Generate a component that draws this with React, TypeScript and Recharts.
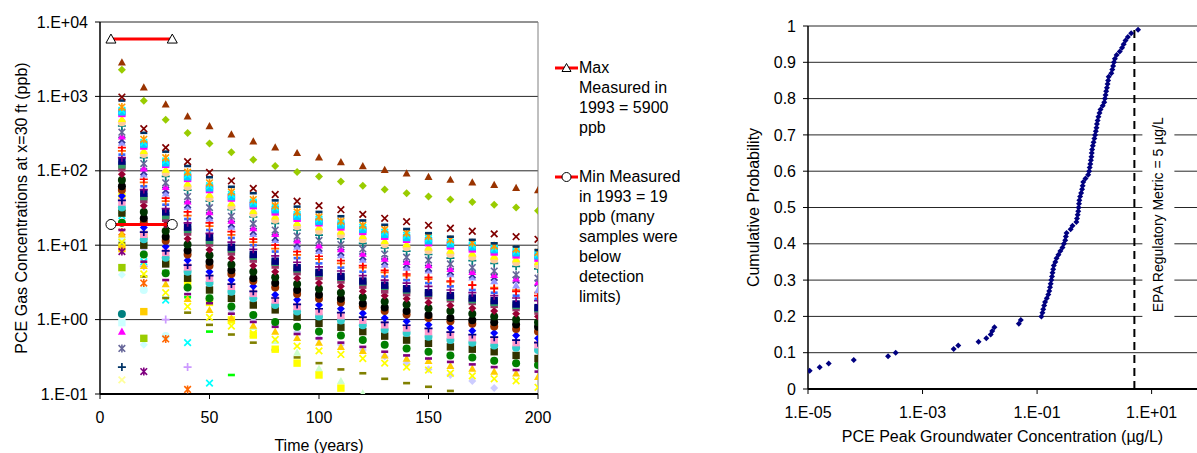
import React from "react";
import {
  ScatterChart,
  Scatter,
  XAxis,
  YAxis,
  CartesianGrid,
  ReferenceLine,
} from "recharts";

// ---- left panel: PCE gas concentration (ppb) vs time ----
const years = [10, 20, 30, 40, 50, 60, 70, 80, 90, 100, 110, 120, 130, 140, 150, 160, 170, 180, 190, 200];
const yTicksLeft = [0.1, 1, 10, 100, 1000, 10000];
const xTicksLeft = [0, 50, 100, 150, 200];

// one value per entry of `years`; missing = below the 0.1 ppb axis floor
const brownTri = [2870, 1325, 783, 540, 400, 310, 250, 207, 174, 152, 131, 116, 103, 92.5, 83, 76, 70, 65, 59, 55];
const greenDia = [2285, 875, 486, 322, 232, 177, 141, 116, 96, 84, 72, 63, 56, 50, 45, 41, 38, 35, 32, 29];
const redX = [980, 368, 205, 133, 95, 73, 58, 48, 39, 34, 30, 26, 23, 20.7, 18.5, 16.9, 15.4, 14.2, 13, 12];
const navyDash = [880, 324, 181, 116, 82, 61, 50, 40, 33, 28, 24.5, 21.5, 18.8, 16.5, 14.5, 13, 11.8, 10.6, 9.6, 8.6];
const orangeStar = [720, 265, 150, 96, 69, 52, 41, 34, 28, 24, 21, 18.5, 16.3, 14.6, 13.2, 11.9, 10.8, 9.8, 8.9, 8.0];
const cyanX = [650, 240, 136, 88, 63, 48, 38, 32, 26, 22.5, 20, 17.5, 15, 13.6, 12.3, 11, 10, 9.1, 8.3, 7.6];
const skyBlueSq = [620, 228, 128, 83, 59, 45, 36, 30, 24.5, 21, 18.7, 16.3, 14, 12.7, 11.5, 10.4, 9.5, 8.7, 7.9, 7.2];
const magentaSq = [590, 215, 122, 79, 56, 43, 34, 28, 23, 20, 17.6, 15.3, 13.2, 12, 10.8, 9.8, 8.9, 8.1, 7.4, 6.7];
const yellowTri = [500, 185, 104, 68, 48, 37, 29, 24.5, 20, 17.5, 15.4, 13.4, 11.5, 10.4, 9.4, 8.5, 7.8, 7.1, 6.5, 6.0];
const peachCirc = [450, 168, 94, 61, 43, 33, 26.5, 22, 18, 15.6, 13.8, 12, 10.3, 9.4, 8.5, 7.6, 7.0, 6.4, 5.9, 5.4];
const tealPlus = [400, 150, 84, 55, 39, 30, 24, 19.6, 16, 13.7, 12.2, 10.6, 9.2, 8.3, 7.5, 6.7, 6.2, 5.7, 5.2, 4.8];
const slateStar = [330, 125, 69, 45, 32, 24.5, 19.5, 16, 13.2, 11.6, 10.2, 8.9, 7.6, 6.9, 6.3, 5.6, 5.0, 4.5, 4.0, 3.6];
const magentaTri = [290, 108, 61, 39, 28, 21.5, 17, 14.2, 11.6, 10, 8.9, 7.7, 6.6, 6.0, 5.4, 4.8, 4.4, 4.0, 3.6, 3.2];
const indigoX = [260, 97, 55, 35, 25, 19.2, 15.3, 12.7, 10.4, 9.1, 8.0, 7.0, 6.0, 5.5, 4.9, 4.4, 4.0, 3.7, 3.4, 3.1];
const lavenderTri = [240, 90, 50, 33, 23, 17.8, 14.2, 11.8, 9.6, 8.4, 7.4, 6.4, 5.5, 5.0, 4.6, 4.1, 3.7, 3.3, 2.9, 2.5];
const redPlus = [205, 77, 43, 28, 20, 15.2, 12.1, 10, 8.2, 7.1, 6.2, 5.3, 4.6, 4.1, 3.7, 3.3, 2.9, 2.6, 2.4, 2.1];
const orangePlus = [185, 70, 39, 25, 18, 13.8, 11, 9, 7.4, 6.5, 5.7, 5.0, 4.3, 3.9, 3.5, 3.2, 2.9, 2.7, 2.5, 2.3];
const blueDash = [165, 62, 35, 22.5, 16, 12.5, 10, 8.2, 6.7, 5.7, 5.0, 4.4, 3.8, 3.4, 3.1, 2.8, 2.5, 2.3, 2.1, 1.9];
const purplePlus = [150, 56, 31, 20, 14.4, 11, 8.8, 7.2, 5.9, 5.1, 4.5, 3.9, 3.4, 3.1, 2.8, 2.5, 2.3, 2.1, 1.95, 1.8];
const navySq = [135, 50, 28, 17.5, 12.8, 9.4, 7.5, 6.1, 5.0, 4.3, 3.8, 3.3, 2.9, 2.6, 2.3, 2.1, 1.95, 1.8, 1.62, 1.45];
const seaGreenSq = [120, 45, 25, 16.3, 11.6, 8.9, 7.1, 5.9, 4.8, 4.2, 3.7, 3.2, 2.8, 2.5, 2.25, 2.0, 1.85, 1.7, 1.55, 1.4];
const brownSq = [110, 41, 23, 15, 10.7, 8.1, 6.5, 5.4, 4.4, 3.8, 3.4, 2.9, 2.5, 2.3, 2.1, 1.9, 1.75, 1.6, 1.45, 1.3];
const maroonDia = [90, 34, 19, 12.2, 8.7, 6.7, 5.3, 4.4, 3.6, 3.1, 2.8, 2.4, 2.1, 1.9, 1.7, 1.55, 1.42, 1.3, 1.2, 1.1];
const darkGreenCirc = [75, 28, 15.5, 10.2, 7.3, 5.5, 4.4, 3.7, 3.0, 2.6, 2.3, 2.0, 1.75, 1.6, 1.42, 1.3, 1.2, 1.1, 1.0, 0.92];
const blackCirc = [62, 23, 13, 8.5, 6.0, 4.6, 3.6, 3.1, 2.5, 2.15, 1.9, 1.65, 1.45, 1.3, 1.15, 1.05, 0.98, 0.92, 0.86, 0.8];
const brownCirc = [55, 20.5, 11.5, 7.5, 5.3, 4.1, 3.3, 2.7, 2.2, 1.9, 1.7, 1.5, 1.3, 1.17, 1.05, 0.95, 0.88, 0.81, 0.75, 0.69];
const blueDia = [46, 17.3, 9.6, 6.3, 4.4, 3.4, 2.8, 2.15, 1.85, 1.57, 1.4, 1.22, 1.05, 0.95, 0.85, 0.77, 0.71, 0.66, 0.61, 0.56];
const navyPlus = [40, 15, 8.4, 5.4, 3.9, 3.0, 2.4, 1.95, 1.6, 1.4, 1.24, 1.08, 0.92, 0.84, 0.76, 0.68, 0.63, 0.58, 0.53, 0.49];
const pinkSq = [38, 14, 8, 5.1, 3.6, 2.8, 2.25, 1.83, 1.5, 1.28, 1.13, 0.98, 0.85, 0.77, 0.69, 0.62, 0.57, 0.53, 0.49, 0.46];
const tealCirc = [32, 12, 6.8, 4.4, 3.1, 2.37, 1.93, 1.57, 1.28, 1.1, 0.97, 0.84, 0.73, 0.66, 0.59, 0.53, 0.49, 0.45, 0.42, 0.39];
const oliveSq = [27, 10, 5.6, 3.6, 2.5, 1.93, 1.57, 1.35, 1.08, 0.89, 0.79, 0.69, 0.6, 0.53, 0.48, 0.43, 0.4, 0.37, 0.33, 0.3];
const greenCirc = [20, 7.5, 4.2, 2.7, 1.93, 1.5, 1.15, 0.93, 0.8, 0.69, 0.61, 0.53, 0.46, 0.41, 0.37, 0.33, 0.31, 0.28, 0.26, 0.245];
const purpleDash = [16, 6, 3.4, 2.2, 1.66, 1.2, 0.93, 0.8, 0.64, 0.56, 0.49, 0.43, 0.37, 0.33, 0.3, 0.27, 0.25, 0.23, 0.21, 0.2];
const goldTri = [14, 5.3, 3.0, 1.9, 1.35, 1.05, 0.83, 0.69, 0.57, 0.49, 0.43, 0.38, 0.33, 0.3, 0.28, 0.24, 0.22, 0.2, 0.19, 0.17];
const yellowX = [11, 4.1, 2.3, 1.5, 1.07, 0.82, 0.65, 0.54, 0.44, 0.38, 0.34, 0.3, 0.26, 0.23, 0.21, 0.19, 0.175, 0.16, 0.15, 0.123];
const yellowSq = [45, 13.7, 6, 3.1, 1.7, 0.99, 0.62, 0.4, 0.26, 0.18, 0.12];
const lavenderDia = [30, 9, 4.3, 2.6, 1.8, 1.35, 1.05, 0.85, 0.68, 0.56, 0.46, 0.39, 0.32, 0.26, 0.215, 0.18, 0.15, 0.12];
const oliveDash = [10.7, 3.8, 1.95, 1.24, 0.85, 0.63, 0.49, 0.39, 0.31, 0.26, 0.214, 0.19, 0.16, 0.14, 0.125, 0.11];
const paleGreenTri = [50, 16, 7.5, 4.2, 2.4, 1.3, 0.8, 0.52, 0.36, 0.22, 0.15, 0.102];
const limeDash = [30, 10, 4.5, 2.0, 0.69, 0.18];
const cyanXFast = [25, 6, 1.83, 0.49, 0.14];
const lilacPlus = [20, 5.2, 1.0, 0.23];
const orangeStarFast = [15, 3.1, 0.55, 0.115];
const purpleStar = [8.2, 0.2];
const goldSq = [9, 1.28];
const limeSq = [5, 0.56];
const paleCyanDia = [4, 0.46];
const paleCyanCirc = [12, 2.5, 0.6];
const tealDot = [1.19];
const paleCyanSq = [0.91];
const magentaTriLow = [0.69];
const slateStarLow = [0.41];
const navyPlusLow = [0.23];
const paleYellowX = [0.155];

// 1993 field measurements
const measuredYears = [5, 33];
const maxMeasured = [5900, 5900];
const minMeasured = [19, 19];

// ---- right panel: cumulative probability of peak groundwater concentration ----
const cumProb = [
  0.05, 0.06, 0.07, 0.08, 0.09, 0.1, 0.11, 0.12, 0.13, 0.14, 0.15, 0.16, 0.17, 0.18, 0.19,
  0.2, 0.21, 0.22, 0.23, 0.24, 0.25, 0.26, 0.27, 0.28, 0.29,
  0.3, 0.31, 0.32, 0.33, 0.34, 0.35, 0.36, 0.37, 0.38, 0.39,
  0.4, 0.41, 0.42, 0.43, 0.44, 0.45, 0.46, 0.47, 0.48, 0.49,
  0.5, 0.51, 0.52, 0.53, 0.54, 0.55, 0.56, 0.57, 0.58, 0.59,
  0.6, 0.61, 0.62, 0.63, 0.64, 0.65, 0.66, 0.67, 0.68, 0.69,
  0.7, 0.71, 0.72, 0.73, 0.74, 0.75, 0.76, 0.77, 0.78, 0.79,
  0.8, 0.81, 0.82, 0.83, 0.84, 0.85, 0.86, 0.87, 0.88, 0.89,
  0.9, 0.91, 0.92, 0.93, 0.94, 0.95, 0.96, 0.97, 0.98, 0.99,
];
const peakConc = [
  1.07e-5, 1.6e-5, 2.3e-5, 6.3e-5, 2.5e-4, 3.4e-4, 3.5e-3, 4.2e-3, 9.5e-3, 1.3e-2, 1.55e-2, 1.65e-2, 1.8e-2, 4.8e-2, 5.2e-2,
  0.119, 0.124, 0.128, 0.133, 0.138, 0.148, 0.157, 0.163, 0.168, 0.173,
  0.177, 0.182, 0.186, 0.191, 0.196, 0.208, 0.219, 0.236, 0.255, 0.278,
  0.294, 0.31, 0.318, 0.327, 0.385, 0.415, 0.485, 0.498, 0.512, 0.524,
  0.532, 0.54, 0.547, 0.565, 0.588, 0.61, 0.625, 0.64, 0.7, 0.78,
  0.81, 0.83, 0.85, 0.87, 0.89, 0.9, 0.915, 0.94, 0.97, 1.0,
  1.03, 1.06, 1.09, 1.11, 1.14, 1.18, 1.23, 1.28, 1.4, 1.49,
  1.53, 1.57, 1.61, 1.66, 1.7, 1.74, 1.78, 1.98, 2.06, 2.13,
  2.2, 2.28, 2.45, 2.78, 3.05, 3.25, 3.5, 3.85, 4.4, 5.8,
];
const probTicks = [0, 0.1, 0.2, 0.3, 0.4, 0.5, 0.6, 0.7, 0.8, 0.9, 1];
const concTicks = [1e-5, 1e-3, 1e-1, 10];
const epaMetric = 5;

type Kind = "diamond" | "square" | "triangle" | "circle" | "x" | "star" | "plus" | "dash";

const series: { data: (number | null)[]; color: string; kind: Kind }[] = [
  { data: paleYellowX, color: "#FFFF99", kind: "x" },
  { data: navyPlusLow, color: "#003366", kind: "plus" },
  { data: slateStarLow, color: "#666699", kind: "star" },
  { data: magentaTriLow, color: "#FF00FF", kind: "triangle" },
  { data: paleCyanSq, color: "#CCFFFF", kind: "square" },
  { data: tealDot, color: "#008080", kind: "circle" },
  { data: paleCyanCirc, color: "#CCFFFF", kind: "circle" },
  { data: paleCyanDia, color: "#CCFFFF", kind: "diamond" },
  { data: limeSq, color: "#99CC00", kind: "square" },
  { data: goldSq, color: "#FFCC00", kind: "square" },
  { data: purpleStar, color: "#800080", kind: "star" },
  { data: orangeStarFast, color: "#FF6600", kind: "star" },
  { data: lilacPlus, color: "#CC99FF", kind: "plus" },
  { data: cyanXFast, color: "#00FFFF", kind: "x" },
  { data: limeDash, color: "#00FF00", kind: "dash" },
  { data: paleGreenTri, color: "#CCFFCC", kind: "triangle" },
  { data: oliveDash, color: "#808000", kind: "dash" },
  { data: lavenderDia, color: "#CCCCFF", kind: "diamond" },
  { data: yellowSq, color: "#FFFF00", kind: "square" },
  { data: yellowX, color: "#FFFF00", kind: "x" },
  { data: goldTri, color: "#FFCC00", kind: "triangle" },
  { data: purpleDash, color: "#800080", kind: "dash" },
  { data: greenCirc, color: "#008000", kind: "circle" },
  { data: oliveSq, color: "#333300", kind: "square" },
  { data: tealCirc, color: "#33CCCC", kind: "circle" },
  { data: pinkSq, color: "#FF99CC", kind: "square" },
  { data: navyPlus, color: "#000080", kind: "plus" },
  { data: blueDia, color: "#0000FF", kind: "diamond" },
  { data: brownCirc, color: "#993300", kind: "circle" },
  { data: blackCirc, color: "#000000", kind: "circle" },
  { data: darkGreenCirc, color: "#003300", kind: "circle" },
  { data: maroonDia, color: "#990033", kind: "diamond" },
  { data: brownSq, color: "#993366", kind: "square" },
  { data: seaGreenSq, color: "#339966", kind: "square" },
  { data: navySq, color: "#000080", kind: "square" },
  { data: purplePlus, color: "#800080", kind: "plus" },
  { data: blueDash, color: "#3366FF", kind: "dash" },
  { data: orangePlus, color: "#FF6600", kind: "plus" },
  { data: redPlus, color: "#FF0000", kind: "plus" },
  { data: lavenderTri, color: "#9999FF", kind: "triangle" },
  { data: indigoX, color: "#333399", kind: "x" },
  { data: magentaTri, color: "#FF00FF", kind: "triangle" },
  { data: slateStar, color: "#666699", kind: "star" },
  { data: tealPlus, color: "#008080", kind: "plus" },
  { data: peachCirc, color: "#FFCC99", kind: "circle" },
  { data: yellowTri, color: "#FFFF00", kind: "triangle" },
  { data: magentaSq, color: "#FF00FF", kind: "square" },
  { data: skyBlueSq, color: "#00CCFF", kind: "square" },
  { data: cyanX, color: "#00FFFF", kind: "x" },
  { data: orangeStar, color: "#FF9900", kind: "star" },
  { data: navyDash, color: "#003366", kind: "dash" },
  { data: redX, color: "#800000", kind: "x" },
  { data: greenDia, color: "#99CC00", kind: "diamond" },
  { data: brownTri, color: "#993300", kind: "triangle" },
];

const toPoints = (vals: (number | null)[], xs: number[] = years) =>
  vals.map((v, i) => ({ t: xs[i], v })).filter((p) => p.v != null);

const cdf = cumProb.map((p, i) => ({ c: peakConc[i], p }));

const sci = (v: number) => {
  const e = Math.round(Math.log10(v));
  return `1.E${e < 0 ? "-" : "+"}${String(Math.abs(e)).padStart(2, "0")}`;
};

function Mark({ cx, cy, kind, color, r = 4 }: any) {
  if (cx == null || cy == null) return null;
  const a = r - 0.7;
  switch (kind) {
    case "diamond":
      return <path d={`M${cx},${cy - r}L${cx + r},${cy}L${cx},${cy + r}L${cx - r},${cy}Z`} fill={color} />;
    case "square":
      return <rect x={cx - r + 0.3} y={cy - r + 0.3} width={2 * r - 0.6} height={2 * r - 0.6} fill={color} />;
    case "triangle":
      return <path d={`M${cx},${cy - r}L${cx + r},${cy + r * 0.8}L${cx - r},${cy + r * 0.8}Z`} fill={color} />;
    case "circle":
      return <circle cx={cx} cy={cy} r={r} fill={color} />;
    case "x":
      return (
        <path d={`M${cx - a},${cy - a}L${cx + a},${cy + a}M${cx + a},${cy - a}L${cx - a},${cy + a}`}
          stroke={color} strokeWidth={1.7} fill="none" />
      );
    case "star":
      return (
        <path d={`M${cx - a},${cy - a}L${cx + a},${cy + a}M${cx + a},${cy - a}L${cx - a},${cy + a}M${cx},${cy - r}L${cx},${cy + r}`}
          stroke={color} strokeWidth={1.6} fill="none" />
      );
    case "plus":
      return (
        <path d={`M${cx - r},${cy}L${cx + r},${cy}M${cx},${cy - r}L${cx},${cy + r}`}
          stroke={color} strokeWidth={1.7} fill="none" />
      );
    case "dash":
      return <rect x={cx - 3.5} y={cy - 1.3} width={7} height={2.6} fill={color} />;
    default:
      return null;
  }
}

const OpenTri = ({ cx, cy }: any) =>
  cx == null ? null : (
    <path d={`M${cx},${cy - 5}L${cx + 5},${cy + 4}L${cx - 5},${cy + 4}Z`} fill="#fff" stroke="#000" strokeWidth={1} />
  );
const OpenCirc = ({ cx, cy }: any) =>
  cx == null ? null : <circle cx={cx} cy={cy} r={5} fill="#fff" stroke="#000" strokeWidth={1} />;

const EpaLabel = ({ viewBox }: any) => {
  if (!viewBox) return null;
  const cx = viewBox.x + 24;
  const cy = viewBox.y + viewBox.height * 0.52;
  return (
    <g>
      <rect x={cx - 16} y={cy - 106} width={32} height={218} fill="#fff" />
      <text x={cx} y={cy} transform={`rotate(-90 ${cx} ${cy})`} textAnchor="middle"
        dominantBaseline="central" fontSize={14} fill="#000">
        EPA Regulatory Metric = 5 µg/L
      </text>
    </g>
  );
};

const axisText = { fill: "#000", fontSize: 16 };

export default function App() {
  return (
    <div style={{ position: "fixed", left: 0, top: 0, width: 1197, height: 453, background: "#fff",
      fontFamily: "'Liberation Sans', Arial, sans-serif", color: "#000" }}>
      <div style={{ position: "absolute", left: 0, top: 0 }}>
        <ScatterChart width={560} height={453} margin={{ top: 22, right: 22, bottom: 0, left: 0 }}>
          <CartesianGrid vertical={false} stroke="#000" strokeOpacity={0.85} />
          <XAxis type="number" dataKey="t" domain={[0, 200]} ticks={xTicksLeft} allowDataOverflow
            height={59} tickSize={5} tickMargin={13} tick={axisText}
            axisLine={{ stroke: "#000", strokeWidth: 2 }} tickLine={{ stroke: "#000" }}
            label={{ value: "Time (years)", position: "insideBottom", offset: 2, fill: "#000", fontSize: 16 }} />
          <YAxis type="number" dataKey="v" scale="log" domain={[0.1, 10000]} ticks={yTicksLeft} allowDataOverflow
            width={100} tickSize={5} tickMargin={7} tick={axisText} tickFormatter={sci}
            axisLine={{ stroke: "#000", strokeWidth: 1.5 }} tickLine={{ stroke: "#000" }}
            label={{ value: "PCE Gas Concentrations at x=30 ft (ppb)", angle: -90, position: "insideLeft",
              offset: 21, fill: "#000", fontSize: 16, style: { textAnchor: "middle" } }} />
          <ReferenceLine x={200} stroke="#808080" />
          {series.map((s, i) => (
            <Scatter key={i} data={toPoints(s.data)} isAnimationActive={false}
              shape={(p: any) => <Mark cx={p.cx} cy={p.cy} kind={s.kind} color={s.color} />} />
          ))}
          <Scatter data={toPoints(maxMeasured, measuredYears)} line={{ stroke: "#FF0000", strokeWidth: 3 }}
            lineType="joint" shape={(p: any) => <OpenTri cx={p.cx} cy={p.cy} />} isAnimationActive={false} />
          <Scatter data={toPoints(minMeasured, measuredYears)} line={{ stroke: "#FF0000", strokeWidth: 3 }}
            lineType="joint" shape={(p: any) => <OpenCirc cx={p.cx} cy={p.cy} />} isAnimationActive={false} />
        </ScatterChart>
      </div>

      <div style={{ position: "absolute", left: 554, top: 58, fontSize: 16, lineHeight: "20px" }}>
        <div style={{ display: "flex" }}>
          <svg width={25} height={20}>
            <line x1={1} x2={24} y1={10} y2={10} stroke="#FF0000" strokeWidth={3} />
            <path d="M12.5,5.5L17,13.5L8,13.5Z" fill="#fff" stroke="#000" />
          </svg>
          <div style={{ width: 104 }}>Max Measured in 1993 = 5900 ppb</div>
        </div>
        <div style={{ display: "flex", marginTop: 29 }}>
          <svg width={25} height={20}>
            <line x1={1} x2={24} y1={10} y2={10} stroke="#FF0000" strokeWidth={3} />
            <circle cx={12.5} cy={10} r={4.5} fill="#fff" stroke="#000" />
          </svg>
          <div style={{ width: 104 }}>Min Measured in 1993 = 19 ppb (many samples were below detection limits)</div>
        </div>
      </div>

      <div style={{ position: "absolute", left: 740, top: 0 }}>
        <ScatterChart width={457} height={453} margin={{ top: 26, right: 0, bottom: 0, left: 0 }}>
          <CartesianGrid vertical={false} stroke="#000" strokeOpacity={0.85} />
          <XAxis type="number" dataKey="c" scale="log" domain={[1e-5, 62]} ticks={concTicks} allowDataOverflow
            height={64} tickSize={5} tickMargin={13} tick={axisText} tickFormatter={sci}
            axisLine={{ stroke: "#000", strokeWidth: 2 }} tickLine={{ stroke: "#000" }}
            label={{ value: "PCE Peak Groundwater Concentration (µg/L)", position: "insideBottom", offset: 11,
              fill: "#000", fontSize: 16 }} />
          <YAxis type="number" dataKey="p" domain={[0, 1]} ticks={probTicks} allowDataOverflow
            width={68} tickSize={5} tickMargin={7} tick={axisText}
            tickFormatter={(v: number) => String(+v.toFixed(1))}
            axisLine={{ stroke: "#000", strokeWidth: 1.5 }} tickLine={{ stroke: "#000" }}
            label={{ value: "Cumulative Probability", angle: -90, position: "insideLeft", offset: 13,
              fill: "#000", fontSize: 16, style: { textAnchor: "middle" } }} />
          <ReferenceLine x={epaMetric} stroke="#000" strokeWidth={2} strokeDasharray="8 5"
            label={(p: any) => <EpaLabel viewBox={p.viewBox} />} />
          <Scatter data={cdf} isAnimationActive={false}
            shape={(p: any) => <Mark cx={p.cx} cy={p.cy} kind="diamond" color="#000080" r={3} />} />
        </ScatterChart>
      </div>
    </div>
  );
}
